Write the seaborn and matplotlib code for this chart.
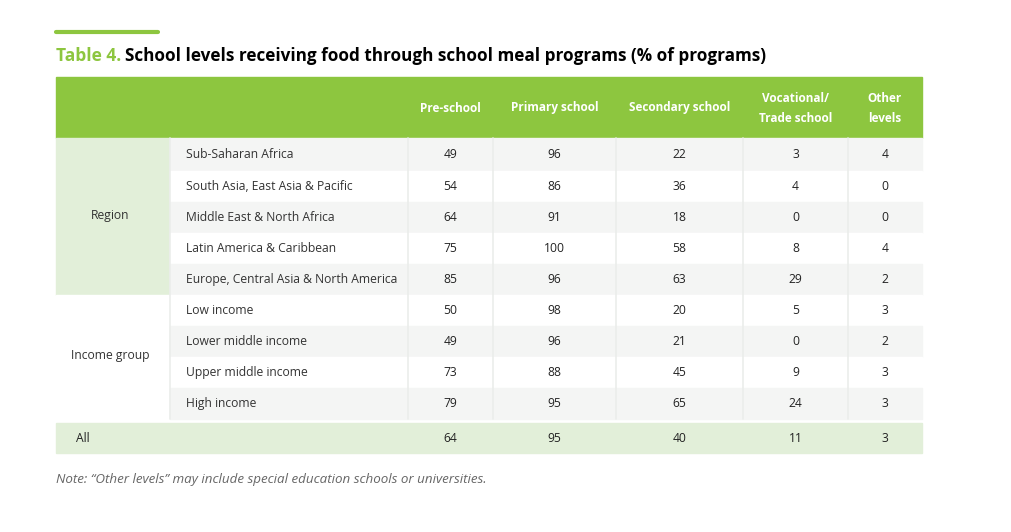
import matplotlib.pyplot as plt
import seaborn as sns
from matplotlib.patches import Rectangle

sns.set_style("white")
plt.rcParams['font.family'] = ['Open Sans', 'DejaVu Sans']

columns = ["Pre-school", "Primary school", "Secondary school", "Vocational/\nTrade school", "Other\nlevels"]
rows = ["Sub-Saharan Africa", "South Asia, East Asia & Pacific", "Middle East & North Africa",
        "Latin America & Caribbean", "Europe, Central Asia & North America",
        "Low income", "Lower middle income", "Upper middle income", "High income"]
groups = ["Region", "Income group"]
pre_school = [49, 54, 64, 75, 85, 50, 49, 73, 79]
primary = [96, 86, 91, 100, 96, 98, 96, 88, 95]
secondary = [22, 36, 18, 58, 63, 20, 21, 45, 65]
vocational = [3, 4, 0, 8, 29, 5, 0, 9, 24]
other = [4, 0, 0, 4, 2, 3, 2, 3, 3]
all_row = [64, 95, 40, 11, 3]

GREEN = "#8dc63f"
LIGHT = "#e2efd9"
GREY = "#f4f5f4"
FS = 8.7

fig = plt.figure(figsize=(10.12, 5.32), dpi=100)
ax = fig.add_axes([0, 0, 1, 1])
ax.set_xlim(0, 1012)
ax.set_ylim(532, 0)
ax.axis("off")

col_edges = [408, 493, 616, 743, 848, 922]
row_edges = [138, 171, 202, 233, 264, 295, 326, 357, 388, 419]

# title
ax.plot([56, 158], [32, 32], color=GREEN, lw=3)
ax.text(56, 56, "Table 4.", color=GREEN, fontsize=12.5, fontweight="bold", va="center")
ax.text(125, 56, "School levels receiving food through school meal programs (% of programs)",
        color="black", fontsize=12.3, fontweight="bold", va="center")

# header
ax.add_patch(Rectangle((56, 77), 866, 61, color=GREEN))
for i, c in enumerate(columns):
    cx = (col_edges[i] + col_edges[i + 1]) / 2
    ax.text(cx, 108, c, color="white", fontsize=8.5, fontweight="bold",
            ha="center", va="center", linespacing=1.7)

# group cells
ax.add_patch(Rectangle((56, 138), 114, row_edges[5] - 138, color=LIGHT))
ax.add_patch(Rectangle((56, 295), 114, row_edges[9] - 295, color="white"))
ax.text(110, 216, groups[0], fontsize=FS, color="#333333", ha="center", va="center")
ax.text(110, 356, groups[1], fontsize=FS, color="#333333", ha="center", va="center")

data = list(zip(pre_school, primary, secondary, vocational, other))
for r, name in enumerate(rows):
    y0, y1 = row_edges[r], row_edges[r + 1]
    bg = GREY if r % 2 == 0 else "white"
    ax.add_patch(Rectangle((170, y0), 752, y1 - y0, color=bg))
    cy = (y0 + y1) / 2
    ax.text(186, cy, name, fontsize=FS, color="#333333", va="center")
    for i, v in enumerate(data[r]):
        cx = (col_edges[i] + col_edges[i + 1]) / 2
        ax.text(cx, cy, str(v), fontsize=FS, color="#222222", ha="center", va="center")

# column separators
for x in [170] + col_edges[:-1]:
    ax.plot([x, x], [138, 419], color="#ebedeb", lw=1.2)

# all row
ax.add_patch(Rectangle((56, 423), 866, 30, color=LIGHT))
ax.text(76, 438, "All", fontsize=FS, color="#222222", va="center")
for i, v in enumerate(all_row):
    cx = (col_edges[i] + col_edges[i + 1]) / 2
    ax.text(cx, 438, str(v), fontsize=FS, color="#222222", ha="center", va="center")

ax.text(56, 480, "Note: \u201cOther levels\u201d may include special education schools or universities.",
        fontsize=9.6, color="#666666", style="italic", va="center")

fig.savefig("out.png", dpi=100)
